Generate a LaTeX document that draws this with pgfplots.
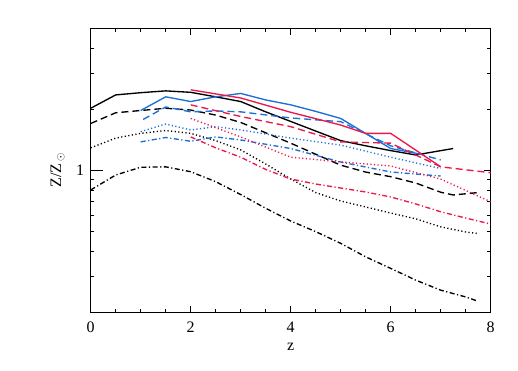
\documentclass[border=0pt]{standalone}
\usepackage{fontspec}
\setmainfont{Liberation Serif}
\usepackage{pgfplots}
\pgfplotsset{compat=1.18}
\definecolor{myblue}{RGB}{30,110,215}
\definecolor{myred}{RGB}{235,25,75}
\tikzset{
  sol/.style={line width=1.35pt},
  dsh/.style={line width=1.35pt, dash pattern=on 7pt off 4pt},
  dot/.style={line width=1.35pt, dash pattern=on 1.2pt off 2.4pt},
  dd/.style={line width=1.35pt, dash pattern=on 5pt off 2.5pt on 1.2pt off 2.5pt},
}
\begin{document}
\begin{tikzpicture}[font=\fontsize{16}{18}\selectfont]
\useasboundingbox (-90.7pt,-57.7pt) rectangle (427.3pt,312.3pt);
\begin{axis}[
  scale only axis, width=400pt, height=284pt,
  xmin=0, xmax=8, ymin=0.2, ymax=5, ymode=log,
  xtick={0,2,4,6,8}, minor x tick num=3,
  ytick={1}, yticklabels={1},
  extra y ticks={1}, extra y tick labels={},
  extra y tick style={major tick length=12pt, tick pos=left},
  minor ytick={0.3,0.4,0.5,0.6,0.7,0.8,0.9,2,3,4},
  major tick length=6.5pt, minor tick length=3.5pt,
  tick style={black, line width=0.6pt},
  axis line style={line width=0.7pt},
  /pgf/number format/assume math mode=true,
  xticklabel style={yshift=-6pt},
  yticklabel style={xshift=-3pt},
  xlabel={z},
  ylabel={Z/Z$_{\,\odot}$},
  x label style={at={(axis description cs:0.5,-0.121)}, anchor=center},
  y label style={at={(axis description cs:-0.083,0.5)}, anchor=center},
  no markers,
]
% black
\addplot[black, sol] coordinates {(0,2.02)(0.5,2.35)(1,2.41)(1.5,2.46)(2,2.42)(2.5,2.30)(3,2.18)(3.5,1.94)(4,1.74)(4.5,1.56)(5,1.40)(5.5,1.32)(6,1.25)(6.5,1.19)(7.25,1.28)};
\addplot[black, dsh] coordinates {(0,1.70)(0.5,1.92)(1,1.97)(1.5,2.02)(2,1.98)(2.5,1.87)(3,1.72)(3.5,1.53)(4,1.36)(4.5,1.20)(5,1.06)(5.5,0.98)(6,0.93)(6.5,0.866)(7,0.78)(7.25,0.756)(7.72,0.776)};
\addplot[black, dot] coordinates {(0,1.29)(0.5,1.44)(1,1.52)(1.5,1.57)(2,1.52)(2.5,1.40)(3,1.26)(3.5,1.074)(4,0.906)(4.5,0.777)(5,0.706)(5.5,0.66)(6,0.616)(6.5,0.577)(7,0.527)(7.5,0.497)(7.72,0.489)};
\addplot[black, dd] coordinates {(0,0.80)(0.5,0.948)(1,1.035)(1.5,1.04)(2,0.984)(2.5,0.879)(3,0.76)(3.5,0.65)(4,0.563)(4.5,0.499)(5,0.437)(5.5,0.375)(6,0.329)(6.5,0.288)(7,0.257)(7.5,0.238)(7.72,0.228)};
% blue
\addplot[myblue, sol] coordinates {(1,1.97)(1.5,2.30)(2,2.18)(2.5,2.30)(3,2.39)(3.5,2.22)(4,2.10)(4.5,1.95)(5,1.80)(6,1.28)(6.6,1.20)};
\addplot[myblue, dsh] coordinates {(1.05,1.78)(1.5,2.05)(2,1.94)(2.5,1.96)(3,1.94)(4,1.81)(5,1.735)(6,1.32)(7,1.124)};
\addplot[myblue, dot] coordinates {(1,1.55)(1.5,1.69)(2,1.58)(2.5,1.64)(3,1.58)(4,1.44)(5,1.33)(6,1.16)(7,1.02)};
\addplot[myblue, dd] coordinates {(1,1.38)(1.5,1.45)(2,1.39)(2.5,1.46)(3,1.41)(4,1.28)(5,1.098)(6,0.981)(7,0.937)};
% red
\addplot[myred, sol] coordinates {(2,2.49)(3,2.27)(4,1.93)(5,1.67)(5.5,1.52)(6,1.52)(7,1.04)};
\addplot[myred, dsh] coordinates {(2,2.10)(3,1.84)(4,1.64)(5,1.38)(6,1.36)(7,1.04)(8,0.973)};
\addplot[myred, dot] coordinates {(2,1.80)(2.5,1.62)(3,1.46)(4,1.16)(5,1.10)(6,1.05)(7,0.905)(8,0.70)};
\addplot[myred, dd] coordinates {(2,1.46)(2.5,1.29)(3,1.16)(3.5,1.01)(4,0.906)(4.5,0.856)(5,0.818)(5.5,0.782)(6,0.739)(6.5,0.683)(7,0.625)(7.5,0.582)(8,0.544)};
\end{axis}
\end{tikzpicture}
\end{document}
